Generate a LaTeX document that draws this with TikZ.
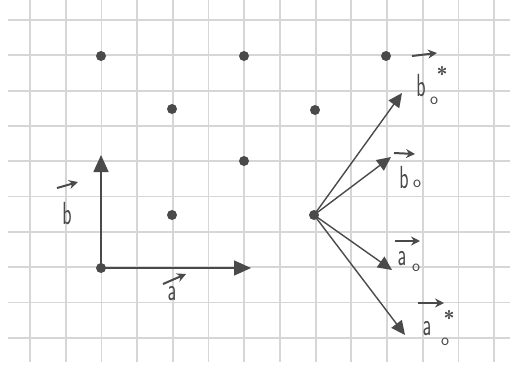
\documentclass[tikz,border=0pt]{standalone}
\usetikzlibrary{arrows.meta}
\definecolor{gridc}{HTML}{D6D6D6}
\definecolor{ink}{HTML}{4A4A4A}
\tikzset{
  gridline/.style={gridc, line width=1.8pt},
  dot/.style={circle, fill=ink, inner sep=0pt, minimum size=10pt},
  vecbig/.style={ink, line width=1.6pt, -{Triangle[length=17pt,width=15pt]}},
  vecsmall/.style={ink, line width=1.4pt, -{Triangle[length=14pt,width=13pt]}},
  lbl/.style={ink, font=\fontsize{32}{32}\sffamily, inner sep=0pt},
  subo/.style={ink, font=\fontsize{17}{17}\sffamily, inner sep=0pt},
  star/.style={ink, font=\fontsize{20}{20}\sffamily\bfseries, inner sep=0pt},
  overarrow/.style={ink, line width=2pt, -{Stealth[length=9pt,width=9pt]}}
}
\begin{document}
\begin{tikzpicture}[x=1pt,y=-1pt]
  \useasboundingbox (0,0) rectangle (510,367);
  \fill[white] (0,0) rectangle (510,367);
  % grid paper
  \foreach \i in {0,...,13} \draw[gridline] ({30+35.7*\i},0) -- ({30+35.7*\i},362);
  \foreach \j in {0,...,9} \draw[gridline] (8,{20+35.3*\j}) -- (510,{20+35.3*\j});
  % lattice points
  \node[dot] (d1) at (101,56) {};
  \node[dot] (d2) at (244,56) {};
  \node[dot] (d3) at (386,56) {};
  \node[dot] (d4) at (172,109) {};
  \node[dot] (d5) at (315,110) {};
  \node[dot] (d6) at (244,161) {};
  \node[dot] (d7) at (172,215) {};
  \node[dot] (O1) at (101,268) {};
  \node[dot] (O2) at (314,215) {};
  % left basis vectors
  \coordinate (tb) at (101,155);
  \coordinate (ta) at (251,268);
  \draw[vecbig] (O1.center) -- (tb);
  \draw[vecbig] (O1.center) -- (ta);
  % right vectors
  \coordinate (tbs) at (402,93);
  \coordinate (tbo) at (391,157);
  \coordinate (tao) at (392,270);
  \coordinate (tas) at (405,335);
  \draw[vecsmall] (O2.center) -- (tbs);
  \draw[vecsmall] (O2.center) -- (tbo);
  \draw[vecsmall] (O2.center) -- (tao);
  \draw[vecsmall] (O2.center) -- (tas);
  % label b
  \node[lbl] (lb) at (67,214) {\scalebox{0.6}[1]{b}};
  \coordinate (lbA) at (57,188); \coordinate (lbB) at (78,182);
  \draw[overarrow] (lbA) -- (lbB);
  % label a
  \node[lbl] (la) at (172,294) {\scalebox{0.6}[1]{a}};
  \coordinate (laA) at (163,284); \coordinate (laB) at (186,274);
  \draw[overarrow] (laA) -- (laB);
  % label b_o^*
  \node[lbl] (lbs) at (421,86) {\scalebox{0.6}[1]{b}};
  \node[subo] (lbso) at (434,101) {o};
  \node[star] (lbss) at (442,74) {*};
  \coordinate (lbsA) at (412,56); \coordinate (lbsB) at (437,53);
  \draw[overarrow] (lbsA) -- (lbsB);
  % label b_o
  \node[lbl] (lbo) at (404,178) {\scalebox{0.6}[1]{b}};
  \node[subo] (lboo) at (417,184) {o};
  \coordinate (lboA) at (394,153); \coordinate (lboB) at (415,154);
  \draw[overarrow] (lboA) -- (lboB);
  % label a_o
  \node[lbl] (lao) at (402,259) {\scalebox{0.6}[1]{a}};
  \node[subo] (laoo) at (416,268) {o};
  \coordinate (laoA) at (395,241); \coordinate (laoB) at (420,241);
  \draw[overarrow] (laoA) -- (laoB);
  % label a_o^*
  \node[lbl] (las) at (427,329) {\scalebox{0.6}[1]{a}};
  \node[subo] (laso) at (445,342) {o};
  \node[star] (lass) at (449,318) {*};
  \coordinate (lasA) at (418,303); \coordinate (lasB) at (444,303);
  \draw[overarrow] (lasA) -- (lasB);
\end{tikzpicture}
\end{document}
